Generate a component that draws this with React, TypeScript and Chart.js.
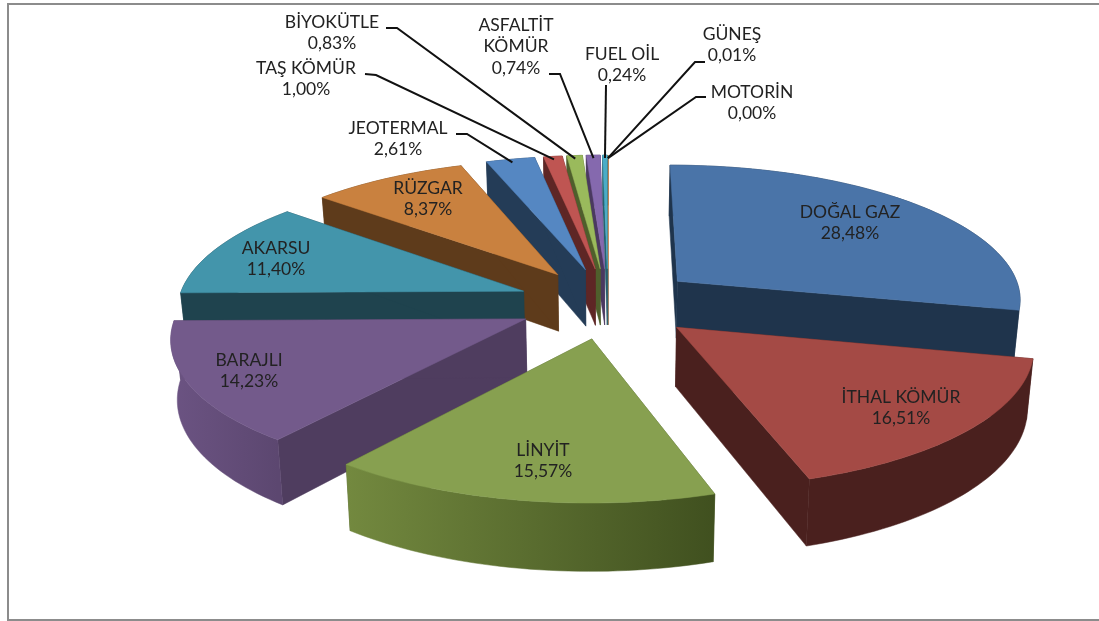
import React, { useEffect, useRef } from "react";
import { Chart, registerables } from "chart.js";

Chart.register(...registerables);

const categories = ["DOĞAL GAZ", "İTHAL KÖMÜR", "LİNYİT", "BARAJLI", "AKARSU", "RÜZGAR", "JEOTERMAL", "TAŞ KÖMÜR", "BİYOKÜTLE", "ASFALTİT KÖMÜR", "FUEL OİL", "GÜNEŞ", "MOTORİN"];
const shares = [28.48, 16.51, 15.57, 14.23, 11.4, 8.37, 2.61, 1.0, 0.83, 0.74, 0.24, 0.01, 0.0];
const shareLabels = ["28,48%", "16,51%", "15,57%", "14,23%", "11,40%", "8,37%", "2,61%", "1,00%", "0,83%", "0,74%", "0,24%", "0,01%", "0,00%"];
const topColors = ["#4A74A8", "#A44A45", "#87A050", "#735A8B", "#4395AB", "#C9813F", "#5587C2", "#BF5552", "#9ABA5C", "#8569AE", "#4BACC6", "#F79646", "#4A74A8"];
const sideColors = ["#1F344C", "#4A201E", "#4F5F2C", "#4F3D5F", "#1F434E", "#5E3B1B", "#243C57", "#5E2625", "#4F5F2C", "#4A3960", "#27606F", "#7A4A20", "#1F344C"];
const rimStart = ["#1F344C", "#4A201E", "#40501F", "#5C4770", "#1F434E", "#5E3B1B", "#243C57", "#5E2625", "#4F5F2C", "#4A3960", "#27606F", "#7A4A20", "#1F344C"];
const rimEnd = ["#1F344C", "#4A201E", "#73893F", "#6B5382", "#1F434E", "#5E3B1B", "#243C57", "#5E2625", "#4F5F2C", "#4A3960", "#27606F", "#7A4A20", "#1F344C"];

// label lines: [centre x, first line y, ...text], leader elbow
const labelLayout: { x: number; y: number; lines: string[]; elbow?: number[][] }[] = [
  { x: 850, y: 212, lines: ["DOĞAL GAZ", shareLabels[0]] },
  { x: 901, y: 397, lines: ["İTHAL KÖMÜR", shareLabels[1]] },
  { x: 543, y: 450, lines: ["LİNYİT", shareLabels[2]] },
  { x: 249, y: 360, lines: ["BARAJLI", shareLabels[3]] },
  { x: 276, y: 248, lines: ["AKARSU", shareLabels[4]] },
  { x: 428, y: 188, lines: ["RÜZGAR", shareLabels[5]] },
  { x: 398, y: 128, lines: ["JEOTERMAL", shareLabels[6]], elbow: [[456, 134], [467, 134]] },
  { x: 306, y: 68, lines: ["TAŞ KÖMÜR", shareLabels[7]], elbow: [[365, 74], [376, 75]] },
  { x: 332, y: 22, lines: ["BİYOKÜTLE", shareLabels[8]], elbow: [[386, 28], [397, 28]] },
  { x: 516, y: 25, lines: ["ASFALTİT", "KÖMÜR", shareLabels[9]], elbow: [[549, 74], [560, 74]] },
  { x: 622, y: 54, lines: ["FUEL OİL", shareLabels[10]], elbow: [[606, 85]] },
  { x: 732, y: 34, lines: ["GÜNEŞ", shareLabels[11]], elbow: [[705, 62], [695, 62]] },
  { x: 752, y: 92, lines: ["MOTORİN", shareLabels[12]], elbow: [[706, 97], [696, 97]] },
];

const CX = 608, CY = 303, A = 346, B = 135, K = 0.12, H = 58, EXPLODE = 0.262;

function project(u: number, v: number, bottom: boolean): [number, number] {
  const s = 1 / (1 + K * v);
  let x = A * u * s;
  let y = CY - B * v * s;
  if (bottom) { x *= 0.985; y += H * s; }
  return [CX + x, y];
}

const pie3d = {
  id: "pie3d",
  beforeDatasetsDraw(chart: any) {
    const ctx: CanvasRenderingContext2D = chart.ctx;
    const arcs = chart.getDatasetMeta(0).data;
    const slices = arcs.map((arc: any, i: number) => {
      const t0 = arc.startAngle + Math.PI / 2;
      const t1 = arc.endAngle + Math.PI / 2;
      const mid = (t0 + t1) / 2;
      return { i, t0, t1, mid, ex: EXPLODE * Math.sin(mid), ev: EXPLODE * Math.cos(mid), color: arc.options.backgroundColor };
    });
    const order = [...slices].sort((a, b) => b.ev - a.ev);

    ctx.save();
    ctx.fillStyle = "#fff";
    ctx.fillRect(0, 0, chart.width, chart.height);
    ctx.strokeStyle = "#8c8c8c";
    ctx.lineWidth = 2;
    ctx.beginPath();
    ctx.moveTo(1099, 4);
    ctx.lineTo(8, 4);
    ctx.lineTo(8, 620);
    ctx.lineTo(1099, 620);
    ctx.stroke();

    const poly = (pts: [number, number][], fill: string | CanvasGradient) => {
      ctx.beginPath();
      pts.forEach((p, n) => (n ? ctx.lineTo(p[0], p[1]) : ctx.moveTo(p[0], p[1])));
      ctx.closePath();
      ctx.fillStyle = fill;
      ctx.fill();
      ctx.strokeStyle = fill;
      ctx.lineWidth = 0.5;
      ctx.stroke();
    };

    for (const s of order) {
      if (s.t1 - s.t0 <= 1e-6) continue;
      const pt = (t: number, r: number, b: boolean) => project(s.ex + r * Math.sin(t), s.ev + r * Math.cos(t), b);
      const n = Math.max(4, Math.ceil((s.t1 - s.t0) * 40));
      const rimTop: [number, number][] = [];
      const rimBot: [number, number][] = [];
      for (let j = 0; j <= n; j++) {
        const t = s.t0 + ((s.t1 - s.t0) * j) / n;
        rimTop.push(pt(t, 1, false));
        rimBot.push(pt(t, 1, true));
      }
      const aTop = pt(0, 0, false);
      const aBot = pt(0, 0, true);
      const side = sideColors[s.i];
      poly([aTop, rimTop[0], rimBot[0], aBot], side);
      poly([aTop, rimTop[n], rimBot[n], aBot], side);
      const grad = ctx.createLinearGradient(rimTop[0][0], 0, rimTop[n][0] + 0.01, 0);
      grad.addColorStop(0, rimStart[s.i]);
      grad.addColorStop(1, rimEnd[s.i]);
      poly([...rimTop, ...[...rimBot].reverse()], grad);
      poly([aTop, ...rimTop], s.color);
    }

    ctx.font = "17.5px Lato";
    ctx.textAlign = "center";
    ctx.textBaseline = "middle";
    ctx.fillStyle = "#222";
    labelLayout.forEach((l, i) => {
      l.lines.forEach((text, k) => ctx.fillText(text, l.x, l.y + k * 21.5));
      if (l.elbow) {
        const s = slices[i];
        const end = project(s.ex + 0.97 * Math.sin(s.mid), s.ev + 0.97 * Math.cos(s.mid), false);
        ctx.beginPath();
        l.elbow.forEach((p, n) => (n ? ctx.lineTo(p[0], p[1]) : ctx.moveTo(p[0], p[1])));
        ctx.lineTo(end[0], end[1]);
        ctx.strokeStyle = "#111";
        ctx.lineWidth = 2;
        ctx.stroke();
      }
    });
    ctx.restore();
    return false;
  },
};

export default function App() {
  const ref = useRef<HTMLCanvasElement>(null);
  useEffect(() => {
    const chart = new Chart(ref.current!, {
      type: "pie",
      data: {
        labels: categories,
        datasets: [{ data: shares, backgroundColor: topColors, borderWidth: 0 }],
      },
      options: {
        animation: false,
        responsive: false,
        plugins: { legend: { display: false }, tooltip: { enabled: false } },
      },
      plugins: [pie3d],
    } as any);
    return () => chart.destroy();
  }, []);
  return (
    <div style={{ position: "fixed", left: 0, top: 0, width: 1099, height: 621, background: "#fff" }}>
      <canvas ref={ref} width={1099} height={621} style={{ display: "block" }} />
    </div>
  );
}
